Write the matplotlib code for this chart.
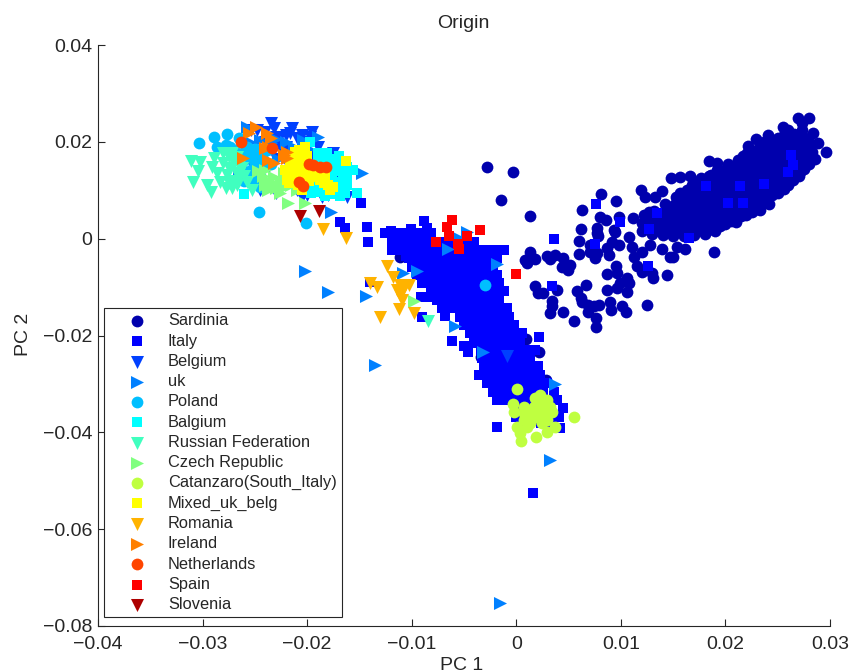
import numpy as np
import matplotlib
matplotlib.use("Agg")
import matplotlib.pyplot as plt

plt.rcParams['font.family'] = ['Liberation Sans', 'DejaVu Sans']

sardinia_scatter = [(-2.8,14.8),(-0.3,13.8),(-1.5,8.0),(1.3,4.7),(6.3,5.9),(8.1,9.2),(9.5,7.7),(6.2,2.0),(6.0,-0.5),(6.0,-3.2),
 (7.7,2.1),(7.7,1.1),(7.8,0.6),(8.0,4.5),(8.6,3.9),(9.8,4.5),(9.3,1.8),(1.34,-2.8),(0.86,-4.4),(1.02,-5.1),(1.75,-4.1),
 (2.93,-3.6),(3.25,-4.3),(3.73,-3.4),(4.46,-4.05),(4.37,-5.8),(5.1,-5.4),(4.97,-6.5),(1.75,-9.8),(2.04,-11.3),(2.55,-11.3),
 (3.89,-10.6),(3.41,-12.9),(3.41,-14),(3.25,-15.3),(4.46,-15.1),(5.54,-17.1),(5.8,-10.8),(6.66,-9.6),(6.2,-12.3),(6.28,-13),
 (6.82,-13.7),(6.82,-15.1),(7.39,-14),(7.9,-13.8),(7.58,-16.4),(7.65,-18.2),(8.92,-13),(9.08,-14.7),(8.67,-10.5),(8.7,-7.2),
 (9.62,-7.15),(9.53,-5.6),(9.62,-10.25),(9.94,-9.2),(10.58,-8.2),(10.74,-9.1),(10.58,-11),(10.1,-14),(10.52,-15.1),(12.5,-13.7),
 (13.06,-8.2),(12.97,-7),(12.0,-6.8),(11.5,-5.6),(14.4,-7.6),(11.3,-3.7),(12,-2.7),(12.8,-1.4),(14.7,-3.7),(15,-3.85),(13.9,-2.1),
 (15.4,-1.65),(16.16,-2.1),(18.9,-2.7),(7.07,-1.3),(7.07,-2.7),(7.55,-4.05),(7.7,-3),(8.83,-3.4),(8.67,-2),(9.15,-0.6),(9.8,-1.3),
 (9.46,1.45),(11.06,-1.65),(10.74,0.4),(11.2,4.2),(11.95,10.1),(12.33,8.55),(13.3,8.7),(13.9,9.9),(12.65,5.6),(14.8,12.5),
 (15.7,12.7),(16.6,13),(18.4,13),(18.4,16),(19.2,15.6),(24.2,7.25),(23.3,5.95),(22.2,19.2),(22.9,20.6),(24.1,21.4),(25.5,23.15),
 (26.0,22.5),(26.9,25),(28,24.9),(27.3,23.8),(28.4,21.8),(28.9,19.85),(29.6,18),(28.6,16.4),(27.1,13.85),(25.6,10.2),
 (-11.1,-3.7),(0.95,-20.8),(2.2,-23.4),(2.8,-29.2),(-3.4,-24.4)]
sardinia_body = [
 (12,1.5),(12,3.2),(12.2,4.8),(13,1),(13,2.6),(13.1,4.2),(13.2,5.8),(14,0.8),(14,2.4),(14,4),(14.1,5.6),(14.2,7.2),
 (15,0.6),(15,2.2),(15,3.8),(15,5.4),(15.1,7),(15.3,8.6),(16,0.5),(16,2),(16,3.6),(16,5.2),(16,6.8),(16.1,8.4),(16.3,10),
 (17,0.8),(17,2.4),(17,4),(17,5.6),(17,7.2),(17,8.8),(17,10.4),(17.2,11.8),(18,1),(18,2.6),(18,4.2),(18,5.8),(18,7.4),(18,9),
 (18,10.6),(18,12.2),(19,1.5),(19,3.1),(19,4.7),(19,6.3),(19,7.9),(19,9.5),(19,11.1),(19,12.7),(19.2,14.2),(20,3),(20,4.6),
 (20,6.2),(20,7.8),(20,9.4),(20,11),(20,12.6),(20,14.2),(20.2,15.5),(21,3.5),(21,5.1),(21,6.7),(21,8.3),(21,9.9),(21,11.5),
 (21,13.1),(21,14.7),(21.2,16.2),(22,4.8),(22,6.4),(22,8),(22,9.6),(22,11.2),(22,12.8),(22,14.4),(22,16),(22.1,17.6),(23,6.2),
 (23,7.6),(23,9.2),(23,10.8),(23,12.4),(23,14),(23,15.6),(23,17.2),(23.2,18.8),(24,8),(24,9.6),(24,11.2),(24,12.8),(24,14.4),
 (24,16),(24,17.6),(24,19.2),(24.2,20.5),(25,9.5),(25,11.1),(25,12.7),(25,14.3),(25,15.9),(25,17.5),(25,19.1),(25,20.7),
 (26,11),(26,12.6),(26,14.2),(26,15.8),(26,17.4),(26,19),(26,20.6),(26,22),(27,13),(27,14.6),(27,16.2),(27,17.8),(27,19.4),
 (27,21),(27.3,22.5),(28,15.5),(28,17),(28,18.6),(28,20),
 (12.5,2.4),(12.6,4),(13.5,1.8),(13.5,3.4),(13.6,5),(14.5,1.6),(14.5,3.2),(14.5,4.8),(14.6,6.4),(15.5,1.4),(15.5,3),(15.5,4.6),
 (15.5,6.2),(15.6,7.8),(15.7,9.4),(16.5,1.5),(16.5,3.2),(16.5,4.8),(16.5,6.4),(16.5,8),(16.6,9.6),(16.8,11.1),(17.5,1.7),(17.5,3.3),
 (17.5,4.9),(17.5,6.5),(17.5,8.1),(17.5,9.7),(17.5,11.3),(17.7,12.6),(18.5,1.9),(18.5,3.5),(18.5,5.1),(18.5,6.7),(18.5,8.3),(18.5,9.9),
 (18.5,11.5),(18.6,13.1),(19.5,2.7),(19.5,4.3),(19.5,5.9),(19.5,7.5),(19.5,9.1),(19.5,10.7),(19.5,12.3),(19.6,13.9),(20.5,3.6),(20.5,5.2),
 (20.5,6.8),(20.5,8.4),(20.5,10),(20.5,11.6),(20.5,13.2),(20.6,14.9),(21.5,4.6),(21.5,6.2),(21.5,7.8),(21.5,9.4),(21.5,11),(21.5,12.6),
 (21.5,14.2),(21.6,15.8),(21.7,17),(22.5,5.6),(22.5,7.2),(22.5,8.8),(22.5,10.4),(22.5,12),(22.5,13.6),(22.5,15.2),(22.5,16.8),(22.7,18.2),
 (23.5,7.4),(23.5,9),(23.5,10.6),(23.5,12.2),(23.5,13.8),(23.5,15.4),(23.5,17),(23.5,18.6),(23.7,20),(24.5,9),(24.5,10.6),(24.5,12.2),
 (24.5,13.8),(24.5,15.4),(24.5,17),(24.5,18.6),(24.7,20.2),(25.5,10.4),(25.5,12),(25.5,13.6),(25.5,15.2),(25.5,16.8),(25.5,18.4),(25.5,20),
 (25.6,21.5),(26.5,12.2),(26.5,13.8),(26.5,15.4),(26.5,17),(26.5,18.6),(26.5,20.2),(26.6,21.7),(27.5,14.4),(27.5,16),(27.5,17.6),(27.5,19.2),
 (27.6,20.8),(28.3,18),(28.1,19.4)]

italy_rows = [
 (1.1,[-11.9,-11.1,-10.3,-9.5,-8.7,-8.2]),
 (-0.6,[-11.9,-11.1,-10.3,-9.5,-8.7,-7.9,-7.1,-6.3,-5.5,-4.7,-4.0]),
 (-2.3,[-11.9,-11.1,-10.3,-9.5,-8.7,-7.9,-7.1,-6.3,-5.5,-4.7,-3.9,-3.1,-2.4,-1.85]),
 (-4.05,[-10.3,-9.5,-8.7,-7.9,-7.1,-6.3,-5.5,-4.7,-3.9,-3.1,-2.4,-1.85]),
 (-5.8,[-10.0,-9.3,-8.5,-7.7,-6.9,-6.1,-5.3,-4.5,-3.7,-2.9,-2.2]),
 (-7.5,[-9.5,-8.7,-7.9,-7.1,-6.3,-5.5,-4.7,-3.9,-3.1,-2.4,-1.85]),
 (-9.2,[-9.0,-8.2,-7.4,-6.6,-5.8,-5.0,-4.2,-3.4,-2.6,-1.7]),
 (-10.9,[-8.2,-7.4,-6.6,-5.8,-5.0,-4.2,-3.4,-2.6,-1.9,-1.2]),
 (-12.7,[-7.6,-6.8,-6.0,-5.2,-4.4,-3.6,-2.8,-2.2,-1.7]),
 (-14.4,[-7.1,-6.4,-5.6,-4.8,-4.0,-3.2,-2.4,-1.6,-0.9]),
 (-16.1,[-5.4,-4.6,-3.8,-3.0,-2.2,-1.4,-0.7]),
 (-17.8,[-5.0,-4.2,-3.4,-2.6,-1.8,-1.0,-0.25]),
 (-19.5,[-4.4,-3.6,-2.8,-2.0,-1.2,-0.4,0.5]),
 (-21.3,[-3.6,-2.8,-2.0,-1.2,-0.4,0.4]),
 (-23.0,[-3.4,-2.6,-1.8,-1.0,-0.2,0.6,1.0]),
 (-24.7,[-3.3,-2.5,-1.7,-0.9,-0.1,0.7,1.3]),
 (-26.4,[-3.1,-2.3,-1.5,-0.7,0.1,0.9,1.6,2.1]),
 (-28.2,[-3.6,-2.8,-2.0,-1.2,-0.4,0.4,1.2,1.8,2.3]),
 (-29.9,[-2.8,-2.0,-1.2,-0.4,0.4,1.2,2.0,2.9]),
 (-31.6,[-2.2,-1.4,-0.6,0.2,1.0,1.8,2.6,3.6]),
 (-33.3,[-1.85,-1.1,-0.3,0.5,1.3,2.1,2.9,3.9]),
 (-35.0,[0.0,0.8,1.6,2.4,3.2,4.5]),
 (-36.8,[0.0,0.8,1.6,2.4,3.2,4.1]),
]
italy_scatter = [(-14.85,7.45),(-16.9,3.4),(-16.4,2.2),(-14.3,2.35),(-14.2,-0.7),(-12.6,1.1),(-12.0,1.6),(-8.86,3.7),(-8.5,2.2),(-10.1,1.9),
 (-1.2,-2.3),(3.6,-0.1),(3.4,-9.7),(-9.1,-12),(-8.5,-12.1),(-9,-16.2),(-6.85,-15.9),(-6.1,-21.2),(-5,-22.2),(-4.6,-23.4),(-4,-21.5),
 (2.2,-20.4),(1.2,-23.5),(1.75,-22.9),(-1.85,-38.9),(4.2,-39.2),(-14,-8.9),(1.6,-52.6),(7.65,7.25),(9.94,3.5),(7.55,-1.1),(13.45,5.25),
 (12.7,1.9),(12.6,-5.6),(16.5,0.15),(18.1,10.9),(21.4,10.9),(23.65,11.3),(20.2,7.4),(21.7,7.4),(26.3,17.2),(26.5,15.2),(26,13.7),
 (-10.5,-3.5),(0.8,-38.0),(2.4,-38.0),(3.0,-38.9)]
belgium = [(-23.5,23.85),(-23.2,22.8),(-21.45,22.8),(-21.6,21.8),(-19.5,22.1),(-19.7,21),(-25.4,22.5),(-24.8,22.5),(-22.55,21.1),(-21,20.8),
 (-20.4,20),(-17.5,17.65),(-16.2,12.8),(-16.2,8.7),(-18.6,8.7),(-21,10.05),(-20,9),(-24.5,10),(-18.1,15),(-17.2,15),(-24,20),(-23,19.5),
 (-22,19),(-25,18),(-23,16.5),(-22,16),(-20.5,19),(-19,19),
 (-23,21),(-22,21.5),(-20.5,21.5),(-24,22),(-21,18),(-22.5,18.5),(-23.6,15),(-18,17),(-19.5,17.5),(-17,13),(-23,9.5),(-20.5,8.7),(-18,9),
 (-0.9,-24.2)]
uk = [(-14.75,13.65),(-17.7,5.6),(-19,21),(-25.75,23.15),(-26.5,12.8),(-24.5,11.8),(-23.5,19.8),(-22,20),(-20.4,20.3),(-25,16.5),(-26,14.5),
 (-24.5,20.3),(-23,20.5),(-21.3,19),(-19.8,18.5),(-22.8,16.5),(-24,17.5),(-25.5,20),
 (-20.2,-6.6),(-18,-11),(-14.4,-11.8),(-13.5,-26.1),(-1.6,-75.3),(3.25,-45.8),(3.7,-30),(-10.8,-7),(-9.5,-6.6),(-6.5,-2.05),(-4.7,1.3),
 (-5.5,0.1),(-1.85,-5.2),(-5.9,-18),(-3.2,-23.4)]
poland = [(-30.3,19.7),(-28.9,21.1),(-27.7,21.6),(-26.55,20.75),(-28.6,19),(-27.35,19),(-25.75,19),(-24.8,17.65),(-24.6,5.45),(-20.1,3.3),
 (-25.4,14.2),(-26.05,16.3),(-24.8,14.9),(-25.75,13.5),(-24.2,16.3),(-23.5,15.5),(-24.5,10.75),(-23.85,18.3),(-27.8,19.4),
 (-25,18.5),(-26,18),(-27,18.3),(-25,15.5),(-24.5,13),(-26,12),(-25.5,16.8),(-24,15),(-25,13),(-25.3,11.5),(-3,-9.6)]
balgium = [(-19,17.6),(-18.1,17.6),(-17.3,16.5),(-18.5,15.8),(-16.8,15.8),(-16.2,14.8),(-16.5,13.5),(-17,14.5),(-16.2,12.6),(-16.8,11.8),
 (-16.2,11),(-17.4,11),(-18,10),(-17,10),(-16.4,9.5),(-18.6,11.5),(-19,10.6),(-19.6,9.5),(-18.8,9.6),(-17.7,9.3),(-17.6,12.5),(-18.3,13),
 (-15.6,14.2),(-15.2,9.4),(-19.7,20),(-26.05,9.25),(-20,15),(-19,12),
 (-17,17),(-19,16.5),(-18,16.5),(-17.8,15),(-16.6,13),(-17.5,14),(-16.5,10.5),(-16.9,8.8),(-18.3,8.9),(-19.5,11)]
russia = [(-31.1,16.1),(-30.2,15.9),(-30.4,13.9),(-30.9,11.8),(-29.6,11.1),(-29.2,9.7),(-29.1,14.9),(-28.6,13.5),(-28,17.6),(-27.2,17.6),
 (-28,15.6),(-27,15.6),(-26.2,14.5),(-28.3,11.8),(-27.8,10.4),(-27.2,10.4),(-27.7,13.2),(-26.7,13.5),(-25.75,11.8),(-25.3,10.1),
 (-28.9,16.6),(-26.7,16.9),(-27.5,16.8),(-27.5,14.5),(-26.5,15),(-27,12),(-27.5,11.5),(-26.5,12.5),(-26,13),(-26.7,11),(-8.4,-17.1)]
czech = [(-24.7,13.9),(-24,14.2),(-21.8,7.45),(-20.2,7.45),(-23.7,10),(-22.6,9.4),(-23.8,12.1),(-23.2,12.8),(-22.9,11),(-22.1,10.75),
 (-22.2,13.5),(-21.4,12.1),(-21,10),(-23.5,11),(-23,10.4),(-22.5,12),(-22,11.5),(-21.5,11),(-24.2,12.9),(-24,11),(-9.75,-12.9)]
catanzaro = [(0.1,-31),(-0.35,-34.1),(-0.25,-35.7),(0.7,-34.7),(1.0,-36),(1.65,-34.7),(2.3,-32.3),(2.9,-33.3),(1.8,-33),(3.4,-35.7),(2.6,-35.4),
 (2.0,-36.8),(1.3,-38.1),(0.7,-37.5),(2.9,-37.5),(2.45,-38.1),(0.05,-39),(0.4,-40.2),(0.45,-41.7),(1.9,-41),(2.9,-39.9),(3.7,-39),(5.5,-36.8),
 (1,-38.8),(1.5,-35.4),(2.3,-34),(0.7,-36),(3.2,-34.7),(1.4,-37),(2.4,-36.5),(2.6,-33.8),(2,-35),(3,-36),(2.9,-34.5)]
mixed = [(-16.25,16.1),(-17.5,10.6),(-21.9,12.1),(-22.1,14.2),(-20.8,18.3),(-20.3,18.3),(-21.3,16.3),(-20.3,16.3),(-19.4,12.8),(-18.3,12.8),
 (-21,14.2),(-20.2,14.2),(-21.3,12.1),(-20.3,12.1),(-17.8,10.1),(-20.5,10),(-21.6,15.2),(-20,13.2),(-19,14),(-20.7,17.2),
 (-20,15.5),(-19.5,14),(-21,15.5),(-20.5,13),(-21.5,13.5),(-19.8,12),(-18.8,12.2),(-21.7,11.5),(-20.9,11),(-20,17),(-21.2,18),(-20.2,19),(-18,11),(-18.4,11.5)]
romania = [(-18.5,2),(-16.25,0.1),(-12.4,-5.6),(-11.8,-8),(-14,-9.1),(-13.3,-9.9),(-10.6,-9.6),(-11.1,-9.6),(-11.4,-10.6),(-11.1,-11.6),(-10.8,-10.6),
 (-10.9,-12.7),(-11.25,-14.6),(-13,-16.2),(-9.8,-15.3),(-10.3,-9.6)]
ireland = [(-25.6,21.8),(-24.9,23),(-23.8,21.8),(-23.5,20.75),(-24,18.7),(-21.9,18),(-21.9,16.6),(-26.1,16.6),(-23.7,16.3),(-23.2,15.6),(-22.2,17.3),(-23.7,19)]
netherlands = [(-26.3,20),(-23.4,18.7),(-19.85,15.4),(-19.4,15.2),(-18.75,14.9),(-18.2,14.7),(-20.8,11.8),(-20.4,10.9)]
spain = [(-6.1,3.9),(-6.6,2.35),(-6.4,0.6),(-3.5,1.7),(-4.7,0.55),(-7.7,-0.7),(-5.6,-1.1),(-5.5,-2.2),(0,-7.4)]
slovenia = [(-20.65,4.7),(-18.85,5.75)]

sardinia = sardinia_body + sardinia_scatter
italy = [(x, y) for y, xs in italy_rows for x in xs] + italy_scatter

S_CIRCLE, S_SQUARE, S_TRI = 72, 50, 88
series = [
 ("Sardinia", sardinia, 'o', (0, 0, 0.68), S_CIRCLE),
 ("Italy", italy, 's', (0, 0, 1), S_SQUARE),
 ("Belgium", belgium, 'v', (0, 0.25, 1), S_TRI),
 ("uk", uk, '>', (0, 0.5, 1), S_TRI),
 ("Poland", poland, 'o', (0, 0.75, 1), S_CIRCLE),
 ("Balgium", balgium, 's', (0, 1, 1), S_SQUARE),
 ("Russian Federation", russia, 'v', (0.25, 1, 0.75), S_TRI),
 ("Czech Republic", czech, '>', (0.5, 1, 0.5), S_TRI),
 ("Catanzaro(South_Italy)", catanzaro, 'o', (0.75, 1, 0.25), S_CIRCLE),
 ("Mixed_uk_belg", mixed, 's', (1, 1, 0), S_SQUARE),
 ("Romania", romania, 'v', (1, 0.7, 0), S_TRI),
 ("Ireland", ireland, '>', (1, 0.5, 0), S_TRI),
 ("Netherlands", netherlands, 'o', (1, 0.27, 0), S_CIRCLE),
 ("Spain", spain, 's', (1, 0, 0), S_SQUARE),
 ("Slovenia", slovenia, 'v', (0.68, 0, 0), S_TRI),
]

x_ticks = [-0.04, -0.03, -0.02, -0.01, 0, 0.01, 0.02, 0.03]
y_ticks = [-0.08, -0.06, -0.04, -0.02, 0, 0.02, 0.04]
ink = '#262626'

W, H = 852, 672
fig = plt.figure(figsize=(W / 100, H / 100), dpi=100)
ax = fig.add_axes([98 / W, 1 - 626 / H, (830 - 98) / W, (626 - 45) / H])
for name, pts, mk, col, size in series:
    a = np.array(pts) * 1e-3
    ax.scatter(a[:, 0], a[:, 1], marker=mk, s=size, color=col, linewidths=0, label=name, clip_on=False)

ax.set_xlim(-0.04, 0.03)
ax.set_ylim(-0.08, 0.04)
ax.set_xticks(x_ticks)
ax.set_xticklabels(['\u22120.04', '\u22120.03', '\u22120.02', '\u22120.01', '0', '0.01', '0.02', '0.03'])
ax.set_yticks(y_ticks)
ax.set_yticklabels(['\u22120.08', '\u22120.06', '\u22120.04', '\u22120.02', '0', '0.02', '0.04'])
ax.tick_params(direction='in', length=5, width=0.8, labelsize=14, colors=ink)
ax.tick_params(axis='y', pad=4)
ax.tick_params(axis='x', pad=7)
for s in ('top', 'right'):
    ax.spines[s].set_visible(False)
for s in ('left', 'bottom'):
    ax.spines[s].set_color(ink)
    ax.spines[s].set_linewidth(0.8)

fig.text(463 / W, 1 - 24 / H, 'Origin', ha='center', va='center', fontsize=14, color=ink)
fig.text(462 / W, 1 - 665 / H, 'PC 1', ha='center', va='center', fontsize=14, color=ink)
fig.text(24 / W, 1 - 334 / H, 'PC 2', ha='center', va='center', rotation=90, fontsize=14, color=ink)

leg = ax.legend(loc='lower left', bbox_to_anchor=((104 - 98) / 732, (626 - 617) / 581), borderaxespad=0,
                fontsize=11.8, labelspacing=0.32, handletextpad=0.2, handlelength=3.4, borderpad=0.3,
                frameon=True, fancybox=False, framealpha=1, edgecolor=ink, labelcolor=ink, scatterpoints=1)
leg.get_frame().set_linewidth(0.8)
leg.set_zorder(10)
fig.savefig('out.png', dpi=100)
